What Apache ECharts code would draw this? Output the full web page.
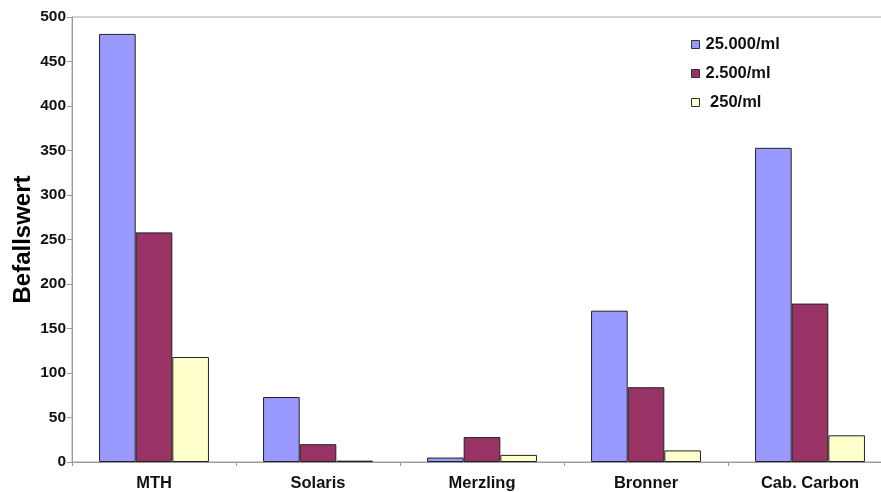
<!DOCTYPE html>
<html>
<head>
<meta charset="utf-8">
<script src="https://cdn.jsdelivr.net/npm/echarts@6/dist/echarts.min.js"></script>
<style>
  html, body { margin: 0; padding: 0; background: #fff; }
  #chart { width: 881px; height: 492px; }
</style>
</head>
<body>
<div id="chart"></div>
<script>
// categories and values
const categories = ['MTH', 'Solaris', 'Merzling', 'Bronner', 'Cab. Carbon'];
const seriesNames = ['25.000/ml', '2.500/ml', ' 250/ml'];
const vals25000 = [481, 73, 5, 170, 353];
const vals2500 = [258, 20, 28, 84, 178];
const vals250 = [118, 1.5, 8, 13, 30];
const colors = ['#9999ff', '#993366', '#ffffcc'];

const chart = echarts.init(document.getElementById('chart'));
const font = '"Liberation Sans", Arial, sans-serif';

function bar(name, data, color) {
  return {
    name: name,
    type: 'bar',
    data: data,
    barGap: 0,
    barCategoryGap: '33%',
    itemStyle: { color: color, borderColor: '#222', borderWidth: 1 }
  };
}

const option = {
  animation: false,
  textStyle: { fontFamily: font },
  grid: {
    left: 72, right: -11, top: 17, bottom: 30,
    outerBoundsMode: 'none',
    containLabel: false,
    show: true, borderColor: '#aaa', borderWidth: 1, backgroundColor: 'transparent'
  },
  legend: {
    orient: 'vertical',
    left: 686, top: 31,
    itemWidth: 8, itemHeight: 8, itemGap: 12,
    icon: 'rect',
    textStyle: { fontFamily: font, fontWeight: 'bold', fontSize: 16.5, color: '#111', padding: [0, 0, 0, 1] },
    itemStyle: { borderColor: '#333', borderWidth: 1 },
    data: seriesNames
  },
  xAxis: {
    type: 'category',
    data: categories,
    axisLine: { lineStyle: { color: '#999' } },
    axisTick: { show: true, length: 4, lineStyle: { color: '#999' } },
    axisLabel: { fontFamily: font, fontWeight: 'bold', fontSize: 16.5, color: '#111', margin: 13 }
  },
  yAxis: {
    type: 'value',
    min: 0, max: 500, interval: 50,
    name: 'Befallswert',
    nameLocation: 'middle',
    nameGap: 37,
    nameMoveOverlap: false,
    nameTextStyle: { fontFamily: font, fontWeight: 'bold', fontSize: 24, color: '#000' },
    axisLine: { show: true, lineStyle: { color: '#999' } },
    axisTick: { show: true, length: 5, lineStyle: { color: '#999' } },
    splitLine: { show: false },
    axisLabel: { fontFamily: font, fontWeight: 'bold', fontSize: 15.5, color: '#111', margin: 6 }
  },
  series: [
    bar(seriesNames[0], vals25000, colors[0]),
    bar(seriesNames[1], vals2500, colors[1]),
    bar(seriesNames[2], vals250, colors[2])
  ]
};

chart.setOption(option);
</script>
</body>
</html>
